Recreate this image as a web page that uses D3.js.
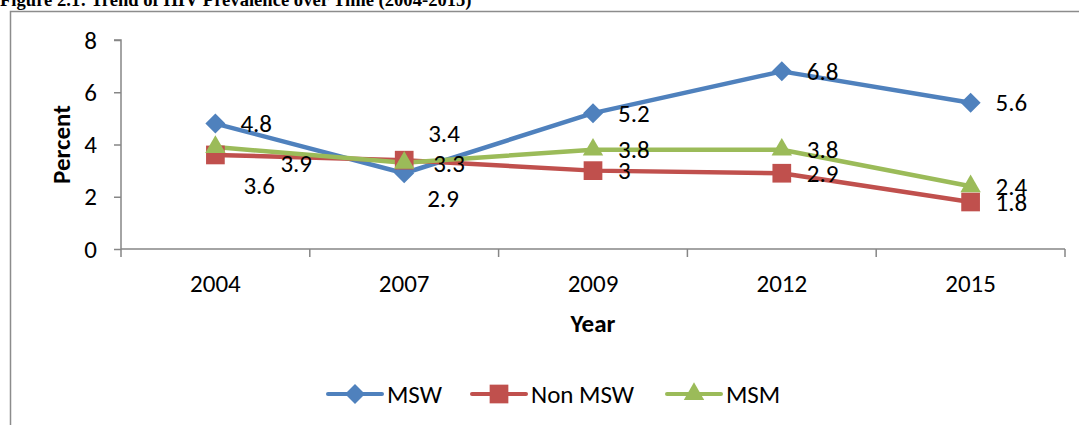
<!DOCTYPE html>
<html lang="en">
<head>
<meta charset="UTF-8">
<title>Trend of HIV Prevalence over Time</title>
<script src="https://d3js.org/d3.v7.min.js"></script>
<style>
    body { margin: 0; background: #fff; }
    svg text { font-family: Carlito, "Open Sans", sans-serif; fill: #000; }
    .title { font-family: "Liberation Serif", "Times New Roman", serif !important; font-weight: bold; font-size: 18.6px; }
    .tick text { font-size: 25px; }
    .axis path, .axis line { stroke: #868686; stroke-width: 1.5px; }
    .lbl { font-size: 25px; }
</style>
</head>
<body>
<svg id="chart" width="1079" height="425"></svg>
<script>
// data
var years = ["2004", "2007", "2009", "2012", "2015"];
var msw = [4.8, 2.9, 5.2, 6.8, 5.6];
var nonMsw = [3.6, 3.4, 3.0, 2.9, 1.8];
var msm = [3.9, 3.3, 3.8, 3.8, 2.4];
var yTicks = [0, 2, 4, 6, 8];

var series = [
    { name: "MSW", values: msw, color: "#4F81BD", symbol: d3.symbolSquare, rot: 45, size: 200 },
    { name: "Non MSW", values: nonMsw, color: "#C0504D", symbol: d3.symbolSquare, rot: 0, size: 350 },
    { name: "MSM", values: msm, color: "#9BBB59", symbol: d3.symbolTriangle, rot: 0, size: 180 }
];

// label nudges where excel moved labels off the default right position
var nudge = {
    "Non MSW-0": [28, 30], "MSM-0": [65, 16],
    "MSW-1": [23, 25], "Non MSW-1": [24, -27], "MSM-1": [29, 0]
};

var svg = d3.select("#chart");
var margin = { left: 121, right: 14, top: 40, bottom: 176 };
var W = 1079, H = 425;

// frame + title
svg.append("path").attr("d", "M10.5,425V11.5H1079").attr("fill", "none")
    .attr("stroke", "#8c8c8c").attr("stroke-width", 1.5);
svg.append("text").attr("class", "title").attr("x", 0).attr("y", 5.5)
    .text("Figure 2.1: Trend of HIV Prevalence over Time (2004-2015)");

var x = d3.scaleBand().domain(years).range([margin.left, W - margin.right]);
var y = d3.scaleLinear().domain([0, 8]).range([H - margin.bottom, margin.top]);

var yAxis = svg.append("g").attr("class", "axis")
    .attr("transform", "translate(" + margin.left + ",0)")
    .call(d3.axisLeft(y).tickValues(yTicks).tickSize(7).tickPadding(17));
yAxis.select(".domain").attr("d", "M-7," + y(8) + "H0V" + y(0));

var xAxis = svg.append("g").attr("class", "axis")
    .attr("transform", "translate(0," + y(0) + ")")
    .call(d3.axisBottom(x).tickSize(0).tickPadding(25));
xAxis.select(".domain").attr("d", "M" + margin.left + ",0H" + (W - margin.right));
// ticks between categories
var bounds = years.map(function (d) { return x(d); }).concat([x.range()[1]]);
xAxis.selectAll(".sep").data(bounds).enter().append("line")
    .attr("x1", function (d) { return d; }).attr("x2", function (d) { return d; })
    .attr("y1", 0).attr("y2", 8).attr("stroke", "#868686").attr("stroke-width", 1.5);

svg.append("text").attr("x", x.range()[0] + (x.range()[1] - x.range()[0]) / 2).attr("y", 332)
    .attr("text-anchor", "middle").style("font-weight", "bold").style("font-size", "25px").text("Year");
svg.append("text").attr("transform", "translate(70," + (y(4)) + ") rotate(-90)")
    .attr("text-anchor", "middle").style("font-weight", "bold").style("font-size", "25px").text("Percent");

var cx = function (d, i) { return x(years[i]) + x.bandwidth() / 2; };
var line = d3.line().x(cx).y(function (d) { return y(d); });

series.forEach(function (s) {
    svg.append("path").datum(s.values).attr("d", line).attr("fill", "none")
        .attr("stroke", s.color).attr("stroke-width", 4.5).attr("stroke-linejoin", "round");
});
series.forEach(function (s) {
    svg.selectAll(null).data(s.values).enter().append("path")
        .attr("d", d3.symbol().type(s.symbol).size(s.size))
        .attr("transform", function (d, i) {
            return "translate(" + cx(d, i) + "," + y(d) + ") rotate(" + s.rot + ")";
        })
        .attr("fill", s.color);
});
series.forEach(function (s) {
    svg.selectAll(null).data(s.values).enter().append("text").attr("class", "lbl")
        .attr("x", function (d, i) { var n = nudge[s.name + "-" + i]; return cx(d, i) + (n ? n[0] : 25); })
        .attr("y", function (d, i) { var n = nudge[s.name + "-" + i]; return y(d) + (n ? n[1] : 0); })
        .attr("dy", "0.35em")
        .text(function (d) { return d; });
});

// legend
var legX = [328, 472, 667];
var leg = svg.selectAll(".leg").data(series).enter().append("g")
    .attr("transform", function (d, i) { return "translate(" + legX[i] + ",394)"; });
leg.append("line").attr("x1", 0).attr("x2", 54).attr("stroke", function (d) { return d.color; })
    .attr("stroke-width", 4).attr("stroke-linecap", "round");
leg.append("path").attr("transform", function (d) { return "translate(27,0) rotate(" + d.rot + ")"; })
    .attr("d", function (d) { return d3.symbol().type(d.symbol).size(d.size)(); })
    .attr("fill", function (d) { return d.color; });
leg.append("text").attr("x", 59).attr("dy", "0.35em").style("font-size", "25px")
    .text(function (d) { return d.name; });
</script>
</body>
</html>
